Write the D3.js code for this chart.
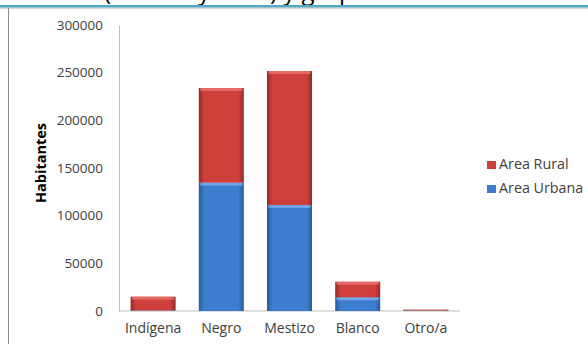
<!DOCTYPE html>
<html><head><meta charset="utf-8">
<script src="https://cdn.jsdelivr.net/npm/d3@7"></script>
<style>body{margin:0;background:#fff}svg{display:block}</style>
</head><body>
<script>
const categories = ["Indígena","Negro","Mestizo","Blanco","Otro/a"];
const urbana = [500, 134600, 111200, 14400, 500];
const rural = [14500, 99300, 140500, 16300, 1000];
const yTicks = [0,50000,100000,150000,200000,250000,300000];
const seriesNames = ["Area Rural","Area Urbana"];
const titleText = "(urbana y rural) y grupo étnico";

const W=588,H=344;
const svg=d3.select("body").append("svg").attr("width",W).attr("height",H);
const defs=svg.append("defs");
function grad(id,edge,mid){
  const g=defs.append("linearGradient").attr("id",id).attr("x1","0").attr("x2","1").attr("y1","0").attr("y2","0");
  g.append("stop").attr("offset","0").attr("stop-color",edge);
  g.append("stop").attr("offset","0.12").attr("stop-color",mid);
  g.append("stop").attr("offset","0.88").attr("stop-color",mid);
  g.append("stop").attr("offset","1").attr("stop-color",edge);
}
grad("gRed","#922a28","#cf403d");
grad("gBlue","#2a5a9a","#3d7ecf");

// title (clipped at top) and frame
svg.append("text").attr("x",104).attr("y",-0.5).attr("font-family","Open Sans").attr("font-size",24).attr("fill","#000").text(titleText);
svg.append("rect").attr("x",0).attr("y",5).attr("width",W).attr("height",2.5).attr("fill","#4bacc6");
svg.append("rect").attr("x",0).attr("y",7.5).attr("width",W).attr("height",1).attr("fill","#b0b0b0");
svg.append("rect").attr("x",8).attr("y",8).attr("width",1).attr("height",H-8).attr("fill","#8c8c8c");

const x=d3.scaleBand().domain(categories).range([119,460]).paddingInner(0.34).paddingOuter(0.17);
const y=d3.scaleLinear().domain([0,300000]).range([311,25]);

// axes
const yAxis=svg.append("g").attr("transform","translate(119,0)").call(d3.axisLeft(y).tickValues(yTicks).tickSize(0).tickPadding(16).tickFormat(d=>String(d)));
yAxis.select(".domain").attr("stroke","#bfbfbf");
yAxis.selectAll("text").attr("font-family","Open Sans").attr("font-size",13.5).attr("fill","#404040");
const xAxis=svg.append("g").attr("transform","translate(0,311)").call(d3.axisBottom(x).tickSize(0).tickPadding(12));
xAxis.select(".domain").attr("stroke","#bfbfbf").attr("d","M119,0H460");
xAxis.selectAll("text").attr("font-family","Open Sans").attr("font-size",14).attr("fill","#404040");

// stacked bars
const rows=categories.map((c,i)=>({cat:c,Urbana:urbana[i],Rural:rural[i]}));
const stack=d3.stack().keys(["Urbana","Rural"])(rows);
const fills={Urbana:"url(#gBlue)",Rural:"url(#gRed)"};
const hi={Urbana:"#7aaeea",Rural:"#ea7470"};
stack.forEach(s=>{
  const g=svg.append("g");
  s.forEach(d=>{
    const x0=x(d.data.cat), bw=x.bandwidth();
    const top=y(d[1]), h=y(d[0])-y(d[1]);
    g.append("rect").attr("x",x0).attr("y",top).attr("width",bw).attr("height",h).attr("fill",fills[s.key]);
    if(h>4){
      g.append("rect").attr("x",x0+1.5).attr("y",top).attr("width",bw-3).attr("height",Math.min(3,h/3)).attr("fill",hi[s.key]).attr("opacity",0.8);
    }
  });
});

// y title
svg.append("text").attr("transform","translate(46,163) rotate(-90)").attr("text-anchor","middle")
  .attr("font-family","Open Sans").attr("font-weight","bold").attr("font-size",14.5).attr("fill","#000").text("Habitantes");

// legend
const legCol=["#c9403d","#3d7ccc"];
seriesNames.forEach((n,i)=>{
  const ly=169+i*24;
  svg.append("rect").attr("x",487).attr("y",ly-8).attr("width",9).attr("height",8).attr("fill",legCol[i]);
  svg.append("text").attr("x",499).attr("y",ly).attr("font-family","Open Sans").attr("font-size",14.3).attr("fill","#404040").text(n);
});
</script>
</body></html>
